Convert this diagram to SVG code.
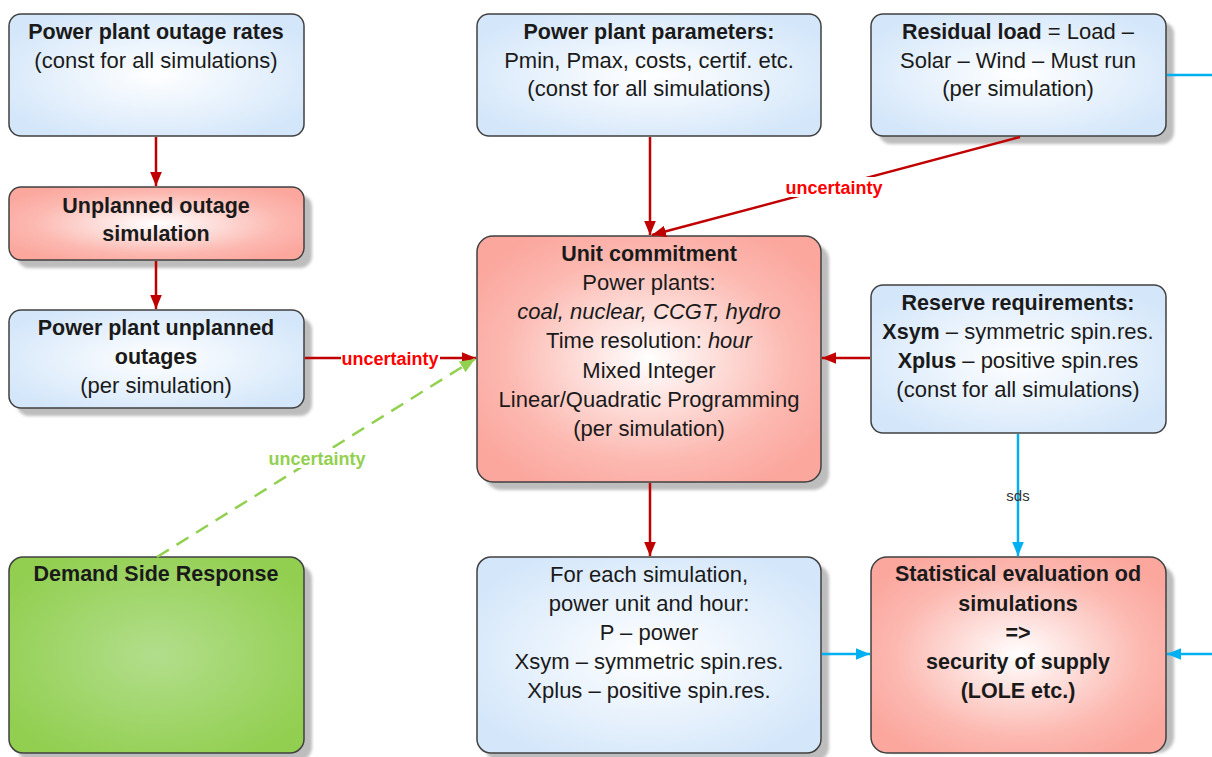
<svg xmlns="http://www.w3.org/2000/svg" width="1212" height="757" viewBox="0 0 1212 757">
<style>
  .box{stroke:#404040;stroke-width:1.5}
  .blue{fill:url(#gBlue)}
  .red{fill:url(#gRed)}
  .green{fill:url(#gGreen)}
  .sh{fill:#bdbdbd;filter:url(#blur)}
  text{font-family:"Liberation Sans",Arial,sans-serif;font-size:22px;fill:#1a1a1a;text-anchor:middle}
  .b{font-weight:bold;font-size:21.5px}
  .i{font-style:italic}
  .lbl{font-size:18px;font-weight:bold}
  .cr{stroke:#c00000;stroke-width:2.5;fill:none}
  .cb{stroke:#00b0f0;stroke-width:2.5;fill:none}
  .cg{stroke:#92d050;stroke-width:2.5;fill:none;stroke-dasharray:14 9}
</style>
<defs>
  <radialGradient id="gBlue" cx="0.5" cy="0.5" r="0.6">
    <stop offset="0" stop-color="#ffffff"/>
    <stop offset="1" stop-color="#d3e6fa"/>
  </radialGradient>
  <radialGradient id="gRed" cx="0.5" cy="0.5" r="0.6">
    <stop offset="0" stop-color="#ffffff"/>
    <stop offset="0.7" stop-color="#fcb8b0"/>
    <stop offset="1" stop-color="#fba79e"/>
  </radialGradient>
  <radialGradient id="gGreen" cx="0.5" cy="0.5" r="0.6">
    <stop offset="0" stop-color="#b2de8c"/>
    <stop offset="1" stop-color="#92cf50"/>
  </radialGradient>
  <filter id="blur" x="-10%" y="-10%" width="120%" height="120%"><feGaussianBlur stdDeviation="1.5"/></filter>
  <marker id="aR" viewBox="0 0 12 10" refX="12" refY="5" markerWidth="14" markerHeight="12" markerUnits="userSpaceOnUse" orient="auto">
    <path d="M0,0 L12,5 L0,10 Z" fill="#c00000"/>
  </marker>
  <marker id="aB" viewBox="0 0 12 10" refX="12" refY="5" markerWidth="14" markerHeight="12" markerUnits="userSpaceOnUse" orient="auto">
    <path d="M0,0 L12,5 L0,10 Z" fill="#00b0f0"/>
  </marker>
  <marker id="aG" viewBox="0 0 12 10" refX="12" refY="5" markerWidth="15" markerHeight="13" markerUnits="userSpaceOnUse" orient="auto">
    <path d="M0,0 L12,5 L0,10 Z" fill="#92d050"/>
  </marker>
</defs>
<rect width="1212" height="757" fill="#ffffff"/>

<g id="n-outage-rates">
  <rect class="box blue" x="9" y="14" width="295" height="122" rx="12"/>
  <text x="156" y="39" class="b">Power plant outage rates</text>
  <text x="156" y="68">(const for all simulations)</text>
</g>

<g id="n-unplanned-sim">
  <rect class="sh" x="17" y="195" width="295" height="73" rx="12"/>
  <rect class="box red" x="9" y="187" width="295" height="73" rx="12"/>
  <text x="156" y="213" class="b">Unplanned outage</text>
  <text x="156" y="241" class="b">simulation</text>
</g>

<g id="n-unplanned-outages">
  <rect class="sh" x="17" y="318" width="295" height="98" rx="12"/>
  <rect class="box blue" x="9" y="310" width="295" height="98" rx="12"/>
  <text x="156" y="335" class="b">Power plant unplanned</text>
  <text x="156" y="364" class="b">outages</text>
  <text x="156" y="393">(per simulation)</text>
</g>

<g id="n-dsr">
  <rect class="sh" x="17" y="565" width="295" height="196" rx="14"/>
  <rect class="box green" x="9" y="557" width="295" height="196" rx="14"/>
  <text x="156" y="581" class="b">Demand Side Response</text>
</g>

<g id="n-params">
  <rect class="box blue" x="477" y="14" width="344" height="122" rx="12"/>
  <text x="649" y="39" class="b">Power plant parameters:</text>
  <text x="649" y="68">Pmin, Pmax, costs, certif. etc.</text>
  <text x="649" y="96">(const for all simulations)</text>
</g>

<g id="n-unit-commitment">
  <rect class="sh" x="485" y="244" width="344" height="246" rx="16"/>
  <rect class="box red" x="477" y="236" width="344" height="246" rx="16"/>
  <text x="649" y="261" class="b">Unit commitment</text>
  <text x="649" y="290">Power plants:</text>
  <text x="649" y="319" class="i">coal, nuclear, CCGT, hydro</text>
  <text x="649" y="348">Time resolution: <tspan class="i">hour</tspan></text>
  <text x="649" y="378">Mixed Integer</text>
  <text x="649" y="407">Linear/Quadratic Programming</text>
  <text x="649" y="436">(per simulation)</text>
</g>

<g id="n-results">
  <rect class="sh" x="485" y="565" width="344" height="196" rx="14"/>
  <rect class="box blue" x="477" y="557" width="344" height="196" rx="14"/>
  <text x="649" y="582">For each simulation,</text>
  <text x="649" y="611">power unit and hour:</text>
  <text x="649" y="640">P – power</text>
  <text x="649" y="669">Xsym – symmetric spin.res.</text>
  <text x="649" y="698">Xplus – positive spin.res.</text>
</g>

<g id="n-residual-load">
  <rect class="sh" x="879" y="22" width="295" height="122" rx="12"/>
  <rect class="box blue" x="871" y="14" width="295" height="122" rx="12"/>
  <text x="1018" y="39"><tspan class="b">Residual load</tspan> = Load –</text>
  <text x="1018" y="68">Solar – Wind – Must run</text>
  <text x="1018" y="96">(per simulation)</text>
</g>

<g id="n-reserve">
  <rect class="box blue" x="871" y="285" width="295" height="148" rx="12"/>
  <text x="1018" y="310" class="b">Reserve requirements:</text>
  <text x="1018" y="339"><tspan class="b">Xsym</tspan> – symmetric spin.res.</text>
  <text x="1018" y="368"><tspan class="b">Xplus</tspan> – positive spin.res</text>
  <text x="1018" y="397">(const for all simulations)</text>
</g>

<g id="n-statistical">
  <rect class="sh" x="879" y="565" width="295" height="188" rx="16"/>
  <rect class="box red" x="871" y="557" width="295" height="196" rx="16"/>
  <text x="1018" y="581" class="b">Statistical evaluation od</text>
  <text x="1018" y="611" class="b">simulations</text>
  <text x="1018" y="640" class="b">=&gt;</text>
  <text x="1018" y="669" class="b">security of supply</text>
  <text x="1018" y="698" class="b">(LOLE etc.)</text>
</g>

<g id="connectors">
  <line class="cr" x1="156" y1="137" x2="156" y2="186" marker-end="url(#aR)"/>
  <line class="cr" x1="156" y1="261" x2="156" y2="309" marker-end="url(#aR)"/>
  <line class="cr" x1="305" y1="358" x2="476" y2="358" marker-end="url(#aR)"/>
  <line class="cg" x1="157" y1="557" x2="475" y2="359" marker-end="url(#aG)"/>
  <line class="cr" x1="650" y1="137" x2="650" y2="235" marker-end="url(#aR)"/>
  <line class="cr" x1="1020" y1="137" x2="652" y2="235" marker-end="url(#aR)"/>
  <line class="cr" x1="870" y1="358" x2="822" y2="358" marker-end="url(#aR)"/>
  <line class="cr" x1="650" y1="483" x2="650" y2="556" marker-end="url(#aR)"/>
  <line class="cb" x1="1018" y1="434" x2="1018" y2="556" marker-end="url(#aB)"/>
  <line class="cb" x1="822" y1="654" x2="870" y2="654" marker-end="url(#aB)"/>
  <line class="cb" x1="1167" y1="75" x2="1212" y2="75"/>
  <line class="cb" x1="1212" y1="654" x2="1167" y2="654" marker-end="url(#aB)"/>
  <rect x="341" y="348" width="99" height="20" fill="#ffffff"/>
  <text class="lbl" x="390" y="365" style="fill:#ff0000">uncertainty</text>
  <rect x="785" y="177" width="99" height="20" fill="#ffffff"/>
  <text class="lbl" x="834" y="194" style="fill:#ff0000">uncertainty</text>
  <rect x="267" y="448" width="101" height="20" fill="#ffffff"/>
  <text class="lbl" x="317" y="465" style="fill:#92d050">uncertainty</text>
  <text x="1018" y="501" style="font-size:15px;fill:#333333">sds</text>
</g>
</svg>
